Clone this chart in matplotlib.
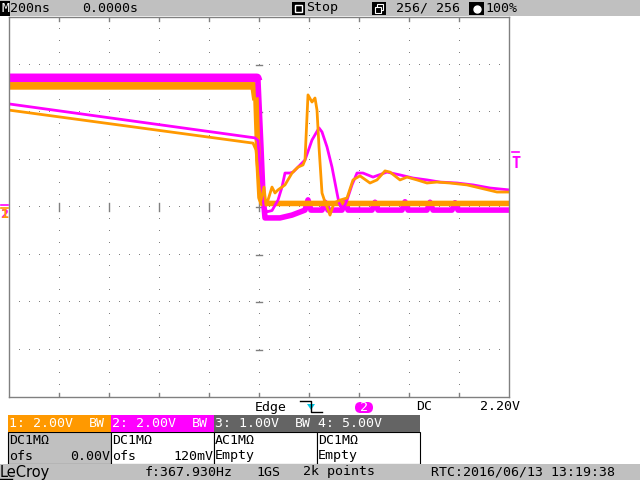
import matplotlib
matplotlib.use("Agg")
import matplotlib.pyplot as plt
from matplotlib.patches import Rectangle, FancyBboxPatch, Polygon
import numpy as np

ORANGE = "#ff9900"
MAGENTA = "#ff00ff"
PANEL = "#c0c0c0"
DARK = "#646464"
MONO = "DejaVu Sans Mono"

# screen: 200 ns/div, 2 V/div, trigger at t = 0 ns
# ch1 (orange) sweep that starts on the high level
c1_high_t = [-1000, -20, -12, -4, 4, 12, 60, 1000]
c1_high_v = [5.10, 5.10, 4.50, 2.00, 0.40, 0.15, 0.15, 0.15]

# ch2 (magenta) sweep that starts on the high level, with the ringing blobs
c2_high_t = [-1000, -8, -4, 8, 16, 24, 84, 132, 184, 196, 208, 252, 264, 276,
             332, 344, 356, 452, 464, 476, 572, 584, 596, 672, 684, 696,
             772, 784, 796, 1000]
c2_high_v = [5.43, 5.43, 5.30, 2.50, 0.50, -0.46, -0.46, -0.34, -0.13, 0.30,
             -0.13, -0.13, 0.20, -0.13, -0.13, 0.25, -0.13, -0.13, 0.20, -0.13,
             -0.13, 0.22, -0.13, -0.13, 0.20, -0.13, -0.13, 0.18, -0.13, -0.13]

# ch1 (orange) sweep with the sloped pre-trigger level
c1_slope_t = [-1000, -24, -12, -4, 4, 8, 20, 28, 36, 52, 64, 76, 104, 132, 156,
              176, 184, 196, 212, 224, 232, 240, 252, 264, 284, 300, 324, 352,
              376, 404, 444, 472, 504, 524, 564, 592, 632, 672, 712, 764, 832,
              884, 952, 1000]
c1_slope_v = [4.08, 2.69, 2.40, 1.35, 0.42, 0.29, 0.84, 0.08, 0.29, 0.84, 0.59,
              0.72, 0.93, 1.43, 1.68, 1.77, 1.98, 4.72, 4.42, 4.59, 4.08, 2.53,
              0.59, 0.21, -0.34, 0.17, 0.29, 0.38, 1.14, 1.31, 1.01, 1.14, 1.52,
              1.47, 1.14, 1.26, 1.14, 1.01, 1.05, 1.01, 0.93, 0.80, 0.63, 0.63]

# ch2 (magenta) sweep with the sloped pre-trigger level
c2_slope_t = [-1000, -16, -4, 8, 20, 32, 52, 76, 92, 104, 124, 136, 156, 184,
              212, 240, 252, 272, 292, 312, 320, 332, 344, 352, 372, 392, 416,
              456, 512, 564, 616, 672, 724, 792, 856, 924, 1000]
c2_slope_v = [4.34, 2.91, 2.80, 1.00, 0.00, -0.20, -0.15, 0.29, 0.84, 1.43,
              1.43, 1.47, 1.68, 1.98, 2.82, 3.33, 3.16, 2.53, 1.68, 0.59, 0.17,
              -0.04, 0.08, 0.29, 0.93, 1.43, 1.43, 1.26, 1.47, 1.35, 1.22, 1.14,
              1.05, 1.01, 0.93, 0.80, 0.72]

fig = plt.figure(figsize=(6.4, 4.8), dpi=100)

# frame around the screen, pixel coordinates
deco = fig.add_axes([0, 0, 1, 1])
deco.set_xlim(0, 640)
deco.set_ylim(480, 0)
deco.axis("off")

# top status bar
deco.add_patch(Rectangle((0, 0), 640, 16, color=PANEL, lw=0))
deco.add_patch(Rectangle((0, 1), 10, 15, color="black", lw=0))
deco.text(5, 8.5, "M", color="white", family=MONO, fontsize=9.5, ha="center", va="center")
deco.text(10, 8, "200ns", family=MONO, fontsize=9.5, va="center")
deco.text(82, 8, "0.0000s", family=MONO, fontsize=9.5, va="center")
deco.add_patch(Rectangle((292, 2), 13, 13, color="black", lw=0))
deco.add_patch(Rectangle((295, 5), 7, 7, facecolor="black", edgecolor="white", lw=1))
deco.text(306, 8, "Stop", family=MONO, fontsize=9.5, va="center")
deco.add_patch(Rectangle((372, 2), 14, 13, color="black", lw=0))
deco.add_patch(Rectangle((377, 4), 6, 6, facecolor="black", edgecolor="white", lw=0.8))
deco.add_patch(Rectangle((375, 7), 6, 6, facecolor="black", edgecolor="white", lw=0.8))
deco.text(396, 8, "256/ 256", family=MONO, fontsize=9.5, va="center")
deco.add_patch(Rectangle((469, 2), 15, 13, color="black", lw=0))
deco.plot([476.5], [8.5], "o", ms=5, mfc="white", mec="white")
deco.text(485, 8, "100%", family=MONO, fontsize=9.5, va="center")

# trigger markers
deco.add_patch(Polygon([(255, 17), (263, 17), (259, 22)], closed=True, color=MAGENTA, lw=0))
deco.plot([512, 519], [152, 152], color=MAGENTA, lw=1.2)
deco.text(515.5, 163, "T", color=MAGENTA, family=MONO, fontsize=11,
          fontweight="bold", ha="center", va="center")
deco.plot([1, 8], [205, 205], color=MAGENTA, lw=1.2)
deco.plot([1, 8], [207.5, 207.5], color=ORANGE, lw=1.2)
deco.text(4.5, 215, "2", color=MAGENTA, family=MONO, fontsize=9.5,
          fontweight="bold", ha="center", va="center")
deco.text(4.5, 215, "1", color=ORANGE, family=MONO, fontsize=9.5,
          fontweight="bold", ha="center", va="center")

# trigger line under the screen
deco.text(255, 407, "Edge", family=MONO, fontsize=9.5, va="center")
deco.plot([300, 311, 311, 322], [401, 401, 412, 412], color="black", lw=1)
deco.add_patch(Polygon([(307, 404), (315, 404), (311, 410)], closed=True, color="#00c8e6", lw=0))
deco.add_patch(FancyBboxPatch((355, 402), 18, 11, boxstyle="round,pad=0,rounding_size=5.5",
                              color=MAGENTA, lw=0))
deco.text(364, 407.5, "2", color="white", family=MONO, fontsize=9.5, ha="center", va="center")
deco.text(416, 407, "DC", family=MONO, fontsize=9.5, va="center")
deco.text(480, 407, "2.20V", family=MONO, fontsize=9.5, va="center")

# channel boxes
box_x = [8, 111, 214, 317]
head_col = [ORANGE, MAGENTA, DARK, DARK]
body_col = [PANEL, "white", "white", "white"]
head_txt = ["1: 2.00V", "2: 2.00V", "3: 1.00V", "4: 5.00V"]
bw_txt = ["BW", "BW", "BW", ""]
row1_txt = ["DC1M\u03a9", "DC1M\u03a9", "AC1M\u03a9", "DC1M\u03a9"]
row2_left = ["ofs", "ofs", "Empty", "Empty"]
row2_right = ["0.00V", "120mV", "", ""]
for i in range(4):
    x0 = box_x[i]
    deco.add_patch(Rectangle((x0, 432), 103, 32, facecolor=body_col[i], edgecolor="black", lw=0.8))
    deco.add_patch(Rectangle((x0, 415), 103, 17, color=head_col[i], lw=0))
    deco.text(x0 + 1, 423.5, head_txt[i], color="white", family=MONO, fontsize=9.5, va="center")
    deco.text(x0 + 97, 423.5, bw_txt[i], color="white", family=MONO, fontsize=9.5,
              ha="right", va="center")
    deco.text(x0 + 1, 440, row1_txt[i], family=MONO, fontsize=9.5, va="center")
    deco.text(x0 + 1, 456, row2_left[i], family=MONO, fontsize=9.5, va="center")
    deco.text(x0 + 102, 456, row2_right[i], family=MONO, fontsize=9.5, ha="right", va="center")

# bottom status bar
deco.add_patch(Rectangle((0, 464), 640, 16, color=PANEL, lw=0))
deco.text(0, 472, "LeCroy", family="DejaVu Sans", fontsize=10.5, va="center")
deco.plot([0, 12], [478.5, 478.5], color="black", lw=1)
deco.text(145, 472, "f:367.930Hz", family=MONO, fontsize=9.5, va="center")
deco.text(256, 472, "1GS", family=MONO, fontsize=9.5, va="center")
deco.text(303, 472, "2k points", family=MONO, fontsize=9.5, va="center")
deco.text(431, 472, "RTC:2016/06/13 13:19:38", family=MONO, fontsize=9.5, va="center")

# the scope screen itself
ax = fig.add_axes([9 / 640, 83 / 480, 500 / 640, 380 / 480])
ax.set_xlim(-1000, 1000)
ax.set_ylim(-8, 8)
ax.set_xticks([])
ax.set_yticks([])
for s in ax.spines.values():
    s.set_color("#808080")
    s.set_linewidth(1)

# dotted graticule
grid_col = "#808080"
for gx in [-800, -600, -400, -200, 200, 400, 600, 800]:
    yy = np.arange(-8, 8.01, 0.5)
    ax.plot(np.full(len(yy), gx), yy, ",", color=grid_col)
for gy in [-6, -4, -2, 2, 4, 6]:
    xx = np.arange(-1000, 1000.1, 40)
    ax.plot(xx, np.full(len(xx), gy), ",", color=grid_col)
xx = np.arange(-1000, 1000.1, 40)
ax.plot(xx, np.zeros(len(xx)), ",", color=grid_col)
yy = np.arange(-8, 8.01, 0.5)
ax.plot(np.zeros(len(yy)), yy, ",", color=grid_col)
for gx in range(-800, 801, 200):
    ax.plot([gx, gx], [-0.15, 0.15], color=grid_col, lw=1)
    ax.plot([gx, gx], [7.85, 8], color=grid_col, lw=1)
    ax.plot([gx, gx], [-8, -7.85], color=grid_col, lw=1)
for gy in range(-6, 7, 2):
    ax.plot([-12, 12], [gy, gy], color=grid_col, lw=1)

# traces, persistence bands drawn thick
ax.plot(c2_high_t[:3], c2_high_v[:3], color=MAGENTA, lw=6.5, solid_capstyle="butt")
ax.plot(c1_high_t[:3], c1_high_v[:3], color=ORANGE, lw=5.5, solid_capstyle="butt")
ax.plot(c2_high_t[2:], c2_high_v[2:], color=MAGENTA, lw=4)
ax.plot(c1_high_t[2:], c1_high_v[2:], color=ORANGE, lw=4)
ax.plot(c2_slope_t, c2_slope_v, color=MAGENTA, lw=2)
ax.plot(c1_slope_t, c1_slope_v, color=ORANGE, lw=2)

fig.savefig("out.png", dpi=100)
